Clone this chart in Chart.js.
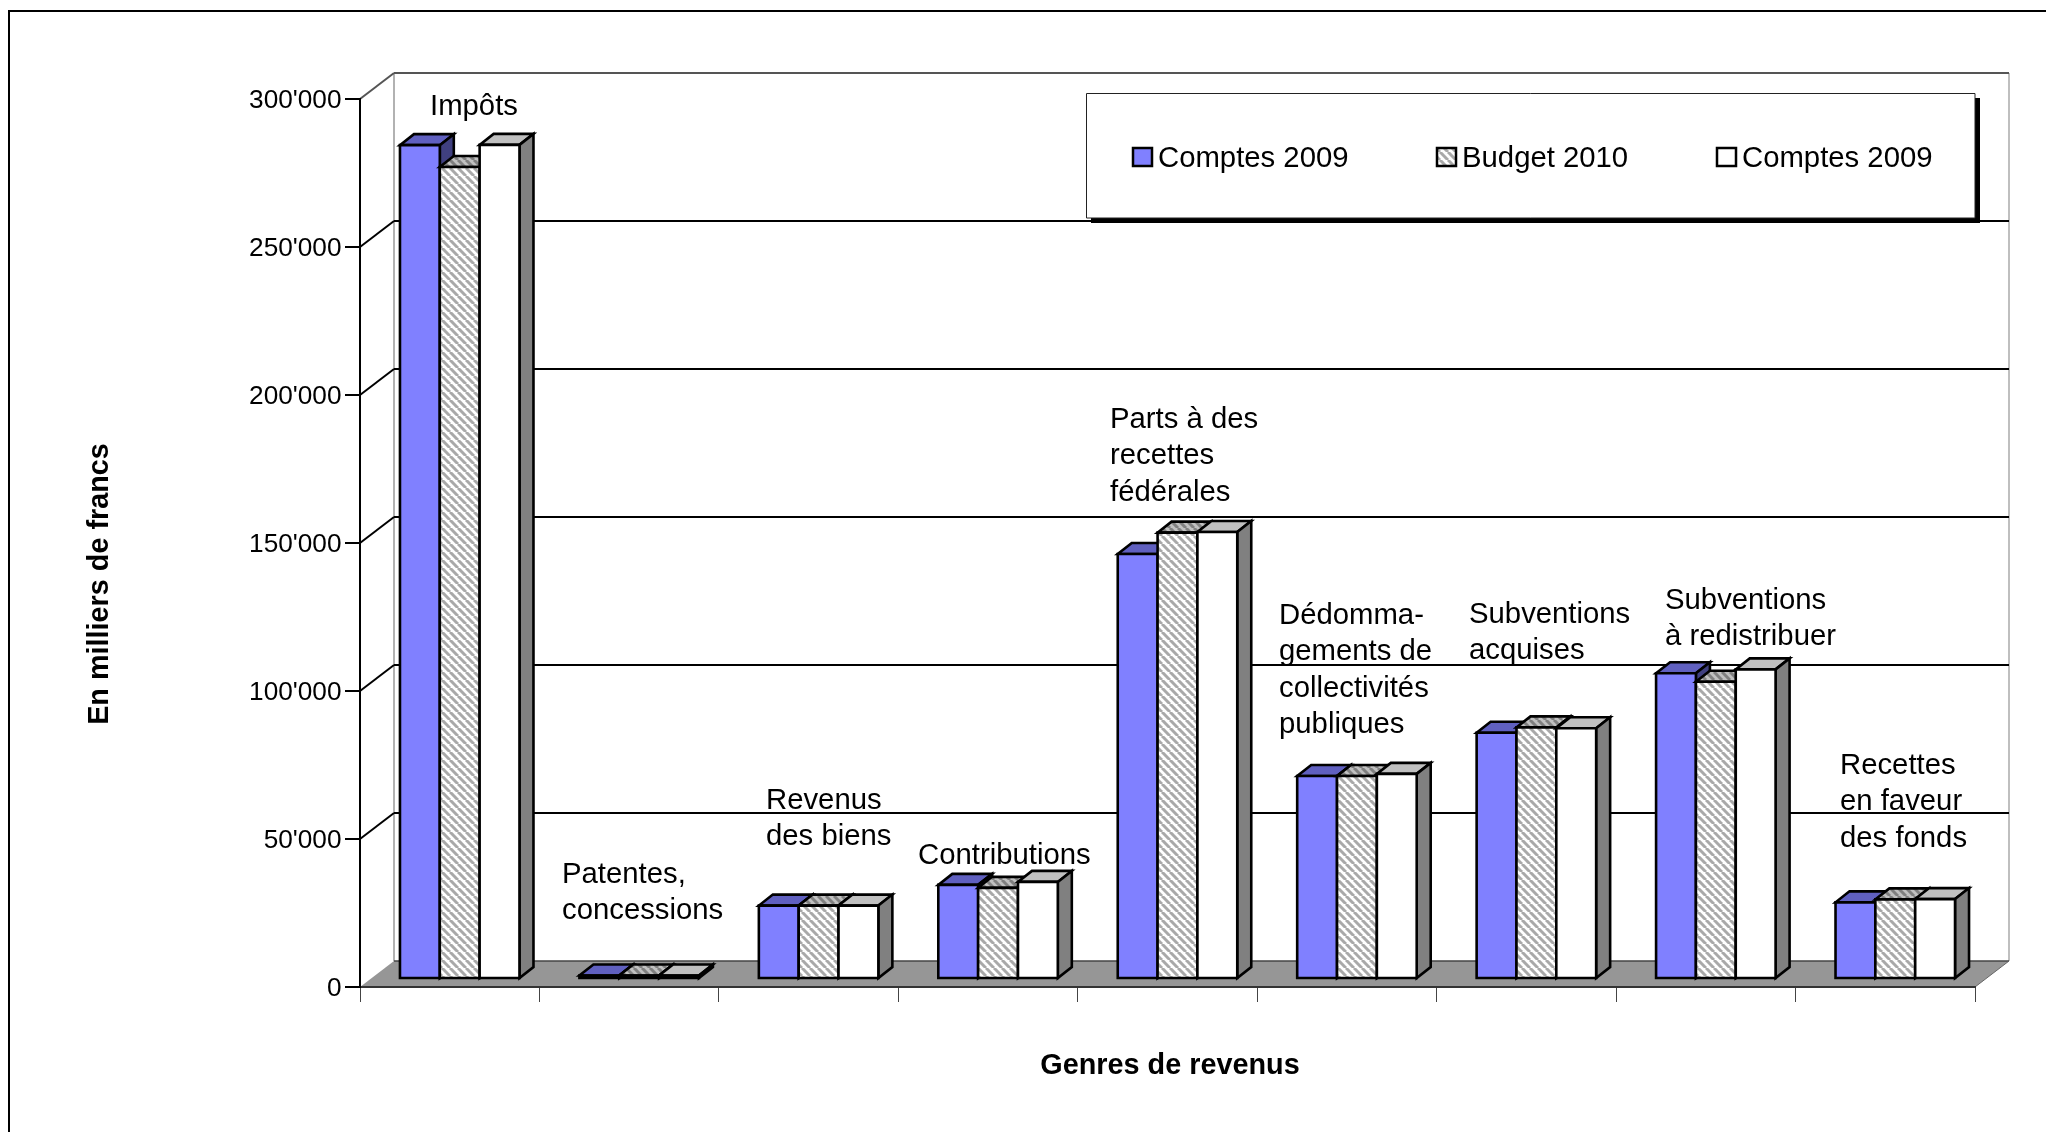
<!DOCTYPE html>
<html>
<head>
<meta charset="utf-8">
<title>Genres de revenus</title>
<script src="https://cdn.jsdelivr.net/npm/chart.js@4"></script>
<style>
  html, body { margin: 0; background: #fff; }
  canvas { display: block; }
</style>
</head>
<body>
<canvas id="Chart" width="2046" height="1132"></canvas>
<script>
"use strict";

var categories = [
  ["Impôts"],
  ["Patentes,", "concessions"],
  ["Revenus", "des biens"],
  ["Contributions"],
  ["Parts à des", "recettes", "fédérales"],
  ["Dédomma-", "gements de", "collectivités", "publiques"],
  ["Subventions", "acquises"],
  ["Subventions", "à redistribuer"],
  ["Recettes", "en faveur", "des fonds"]
];
var seriesNames = ["Comptes 2009", "Budget 2010", "Comptes 2009"];
var comptesA = [281700, 1200, 24800, 31800, 143600, 68600, 83200, 103300, 25900];
var budget = [274300, 1200, 24800, 30800, 150800, 68600, 85000, 100400, 26900];
var comptesB = [281800, 1200, 24800, 32800, 151000, 69300, 84700, 104600, 27000];

// where the text boxes sit on the page
var labelX = [430, 562, 766, 918, 1110, 1279, 1469, 1665, 1840];
var labelY = [107, 875, 801, 856, 420, 616, 615, 601, 766];
var legendSwatchX = [1133, 1437, 1717];
var legendTextX = [1158, 1462, 1742];

var FONT = '"Liberation Sans", Arial, sans-serif';
var DEPTH_X = 34, DEPTH_Y = 26;      // wall/floor depth
var BAR_DX = 10, BAR_DY = -8;        // bars stand in the middle of the floor
var BAR_DEPTH_X = 14, BAR_DEPTH_Y = 11;

Chart.defaults.font.family = FONT;
Chart.defaults.color = "#000";

function makeHatch(light, dark) {
  var tile = document.createElement("canvas");
  tile.width = tile.height = 8;
  var c = tile.getContext("2d");
  c.fillStyle = light;
  c.fillRect(0, 0, 8, 8);
  c.strokeStyle = dark;
  c.lineWidth = 3;
  [-8, 0, 8].forEach(function (o) {
    c.beginPath();
    c.moveTo(o, 0);
    c.lineTo(o + 8, 8);
    c.stroke();
  });
  return c.createPattern(tile, "repeat");
}

var hatchFront = makeHatch("#ffffff", "#a9a9a9");
var hatchTop = makeHatch("#c0c0c0", "#808080");
var hatchSide = makeHatch("#808080", "#555555");

var fronts = ["#8080ff", hatchFront, "#ffffff"];
var tops = ["#6060c0", hatchTop, "#c0c0c0"];
var sides = ["#404080", hatchSide, "#808080"];

function poly(ctx, pts, fill, stroke, width) {
  ctx.beginPath();
  pts.forEach(function (p, i) {
    if (i) ctx.lineTo(p[0], p[1]);
    else ctx.moveTo(p[0], p[1]);
  });
  ctx.closePath();
  if (fill) { ctx.fillStyle = fill; ctx.fill(); }
  if (stroke) { ctx.strokeStyle = stroke; ctx.lineWidth = width; ctx.lineJoin = "miter"; ctx.stroke(); }
}

function line(ctx, x1, y1, x2, y2, color, width) {
  ctx.beginPath();
  ctx.moveTo(x1, y1);
  ctx.lineTo(x2, y2);
  ctx.strokeStyle = color;
  ctx.lineWidth = width;
  ctx.stroke();
}

function drawLegend(ctx) {
  poly(ctx, [[1091, 98], [1980, 98], [1980, 223], [1091, 223]], "#000");
  poly(ctx, [[1086.5, 93.5], [1975, 93.5], [1975, 218], [1086.5, 218]], "#fff", "#222", 1);
  ctx.font = "29.3px " + FONT;
  ctx.textAlign = "left";
  ctx.textBaseline = "middle";
  seriesNames.forEach(function (name, i) {
    var x = legendSwatchX[i];
    poly(ctx, [[x, 148], [x + 19, 148], [x + 19, 166], [x, 166]], fronts[i], "#000", 2.5);
    ctx.fillStyle = "#000";
    ctx.fillText(name, legendTextX[i], 159);
  });
}

function drawBars(chart) {
  var ctx = chart.ctx;
  ctx.save();
  ctx.translate(BAR_DX, BAR_DY);
  // first series first: each bar has to cover the side face of the one before it
  chart.data.datasets.forEach(function (ds, i) {
    var meta = chart.getDatasetMeta(i);
    meta.data.forEach(function (bar) {
      var p = bar.getProps(["x", "y", "base", "width"], true);
      var L = p.x - p.width / 2, R = p.x + p.width / 2;
      poly(ctx, [[L, p.y], [R, p.y], [R + BAR_DEPTH_X, p.y - BAR_DEPTH_Y], [L + BAR_DEPTH_X, p.y - BAR_DEPTH_Y]], tops[i], "#000", 2.6);
      poly(ctx, [[R, p.y], [R + BAR_DEPTH_X, p.y - BAR_DEPTH_Y], [R + BAR_DEPTH_X, p.base - BAR_DEPTH_Y], [R, p.base]], sides[i], "#000", 2.6);
    });
    meta.controller.draw();
    meta.data.forEach(function (bar) {
      var p = bar.getProps(["x", "y", "base", "width"], true);
      var L = p.x - p.width / 2, R = p.x + p.width / 2;
      poly(ctx, [[L, p.y], [R, p.y], [R, p.base], [L, p.base]], null, "#000", 2.6);
    });
  });
  ctx.restore();
}

function drawTexts(chart) {
  var ctx = chart.ctx;
  ctx.save();
  ctx.fillStyle = "#000";
  ctx.font = "29.3px " + FONT;
  ctx.textAlign = "left";
  ctx.textBaseline = "middle";
  chart.data.labels.forEach(function (lines, i) {
    lines.forEach(function (txt, n) {
      ctx.fillText(txt, labelX[i], labelY[i] + n * 36.4);
    });
  });
  ctx.font = "bold 28.8px " + FONT;
  ctx.textAlign = "center";
  ctx.fillText("Genres de revenus", 1170, 1066);
  ctx.translate(100, 584);
  ctx.rotate(-Math.PI / 2);
  ctx.fillText("En milliers de francs", 0, 0);
  ctx.restore();
}

var box3d = {
  id: "box3d",
  // walls, floor, grid and legend sit behind everything
  beforeDraw: function (chart) {
    var ctx = chart.ctx, area = chart.chartArea, y = chart.scales.y;
    var l = area.left, r = area.right, b = area.bottom;
    ctx.save();
    // page frame: only top and left edge are on the page
    line(ctx, 9, 11, 2046, 11, "#000", 2);
    line(ctx, 9, 10, 9, 1132, "#000", 2);
    poly(ctx, [[l + DEPTH_X, area.top - DEPTH_Y], [r + DEPTH_X, area.top - DEPTH_Y], [r + DEPTH_X, b - DEPTH_Y], [l + DEPTH_X, b - DEPTH_Y]], "#fff");
    line(ctx, l + DEPTH_X, area.top - DEPTH_Y, l + DEPTH_X, b - DEPTH_Y, "#999", 1.5);
    line(ctx, r + DEPTH_X, area.top - DEPTH_Y, r + DEPTH_X, b - DEPTH_Y, "#aaa", 1.5);
    y.ticks.forEach(function (t) {
      var py = y.getPixelForValue(t.value);
      if (t.value === 0) return;
      var top = t.value === y.max;
      var color = top ? "#555" : "#000";
      line(ctx, l, py, l + DEPTH_X, py - DEPTH_Y, color, 2);
      line(ctx, l + DEPTH_X, py - DEPTH_Y, r + DEPTH_X, py - DEPTH_Y, color, 2);
    });
    poly(ctx, [[l, b], [l + DEPTH_X, b - DEPTH_Y], [r + DEPTH_X, b - DEPTH_Y], [r, b]], "#969696");
    line(ctx, l + DEPTH_X, b - DEPTH_Y, r + DEPTH_X, b - DEPTH_Y, "#444", 1.5);
    line(ctx, r, b, r + DEPTH_X, b - DEPTH_Y, "#666", 1);
    drawLegend(ctx);
    ctx.restore();
  },
  // bars are painted here in series order, so the normal pass is skipped
  beforeDatasetsDraw: function (chart) {
    drawBars(chart);
    drawTexts(chart);
    return false;
  }
};

var ctx = document.getElementById("Chart").getContext("2d");
var chart = new Chart(ctx, {
  type: "bar",
  data: {
    labels: categories,
    datasets: [
      { label: seriesNames[0], data: comptesA, backgroundColor: fronts[0] },
      { label: seriesNames[1], data: budget, backgroundColor: fronts[1] },
      { label: seriesNames[2], data: comptesB, backgroundColor: fronts[2] }
    ]
  },
  options: {
    responsive: false,
    animation: false,
    layout: { padding: { top: 99, right: 71, left: 0, bottom: 0 } },
    datasets: { bar: { categoryPercentage: 0.666, barPercentage: 1, borderWidth: 0 } },
    plugins: { legend: { display: false }, tooltip: { enabled: false } },
    scales: {
      x: {
        grid: { drawOnChartArea: false, offset: true, tickLength: 15, color: "#444", lineWidth: 1 },
        border: { color: "#333", width: 2 },
        ticks: { display: false },
        afterFit: function (scale) { scale.height = 145; }
      },
      y: {
        min: 0,
        max: 300000,
        grid: { drawOnChartArea: false, tickLength: 15, color: "#000", lineWidth: 2 },
        border: { color: "#000", width: 2 },
        ticks: {
          stepSize: 50000,
          padding: 3.5,
          labelOffset: 2,
          color: "#000",
          font: { size: 26.2 },
          callback: function (v) { return String(v).replace(/\B(?=(\d{3})+$)/g, "'"); }
        },
        afterFit: function (scale) { scale.width = 360; }
      }
    }
  },
  plugins: [box3d]
});
</script>
</body>
</html>
